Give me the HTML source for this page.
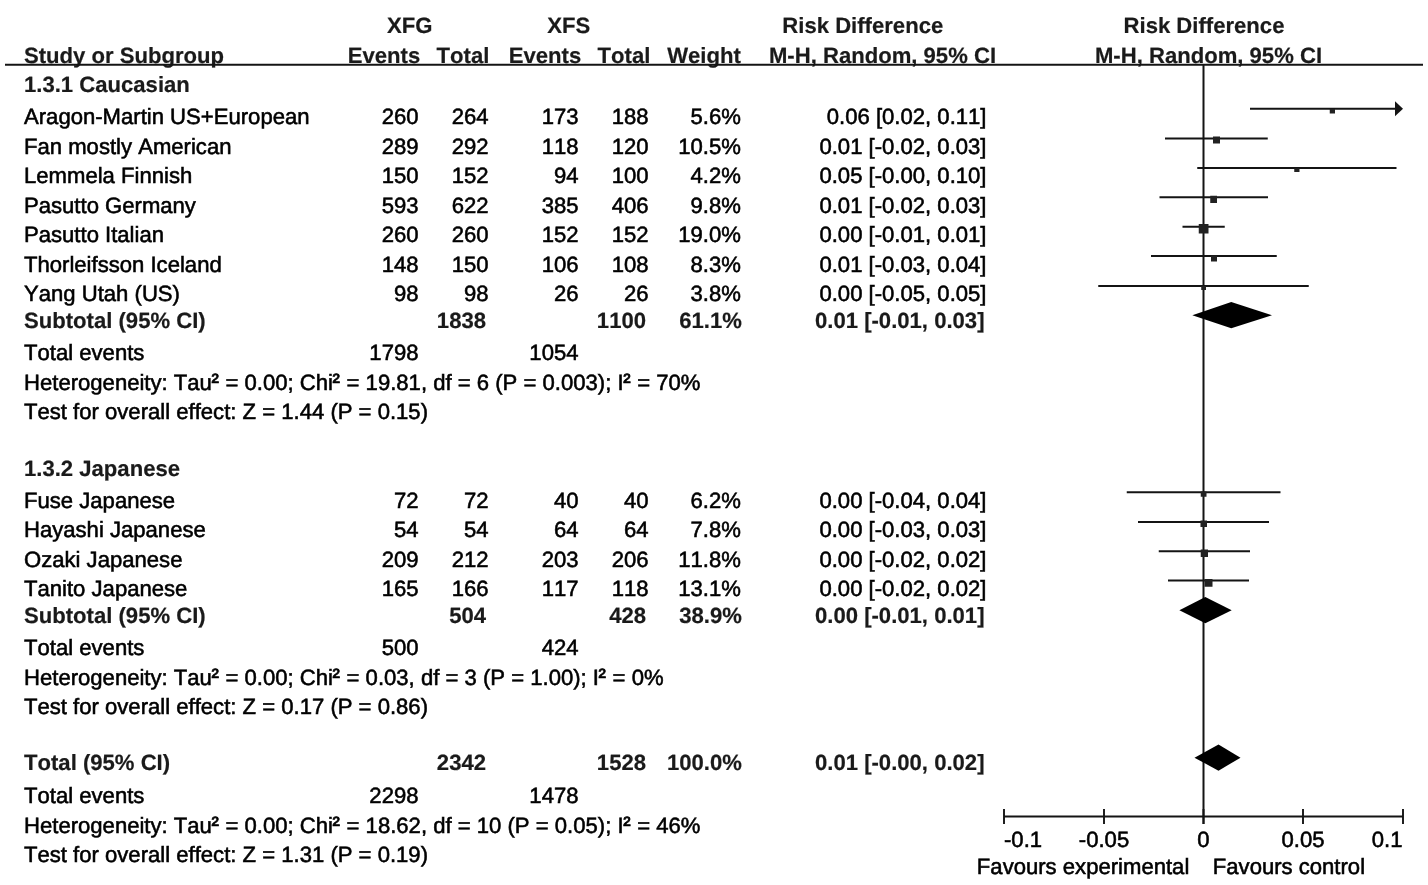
<!DOCTYPE html>
<html lang="en">
<head>
<meta charset="utf-8">
<title>Forest plot: Risk Difference, XFG vs XFS</title>
<style>
html,body{margin:0;padding:0;background:#fff;}
body{width:1428px;height:885px;overflow:hidden;}
svg{display:block;}
text{font-family:"Liberation Sans",Arial,Helvetica,sans-serif;font-size:22.1px;fill:#000;stroke:#000;stroke-width:0.55px;font-kerning:none;font-variant-ligatures:none;text-rendering:geometricPrecision;}
.b{font-weight:bold;fill:#1a1a1a;stroke:#1a1a1a;stroke-width:0.2px;}
.sup{stroke-width:0.8px;}
</style>
</head>
<body>
<svg width="1428" height="885" viewBox="0 0 1428 885">
<rect width="1428" height="885" fill="#fff"/>
<g>
<text x="409.7" y="33" text-anchor="middle" class="b">XFG</text>
<text x="568.8" y="33" text-anchor="middle" class="b">XFS</text>
<text x="862.8" y="33" text-anchor="middle" class="b">Risk Difference</text>
<text x="1204" y="33" text-anchor="middle" class="b">Risk Difference</text>
<text x="24" y="63" class="b">Study or Subgroup</text>
<text x="384" y="63" text-anchor="middle" class="b">Events</text>
<text x="463" y="63" text-anchor="middle" class="b">Total</text>
<text x="545" y="63" text-anchor="middle" class="b">Events</text>
<text x="624" y="63" text-anchor="middle" class="b">Total</text>
<text x="704" y="63" text-anchor="middle" class="b">Weight</text>
<text x="882.5" y="63" text-anchor="middle" class="b">M-H, Random, 95% CI</text>
<text x="1208.5" y="63" text-anchor="middle" class="b">M-H, Random, 95% CI</text>
</g>
<g>
<line x1="5" y1="64.8" x2="1423" y2="64.8" stroke="#141414" stroke-width="2.1"/>
<line x1="1203.5" y1="64" x2="1203.5" y2="824" stroke="#141414" stroke-width="2.0"/>
<line x1="1004" y1="816.5" x2="1403" y2="816.5" stroke="#141414" stroke-width="1.9"/>
<line x1="1004" y1="809" x2="1004" y2="824" stroke="#141414" stroke-width="1.9"/>
<line x1="1104" y1="809" x2="1104" y2="824" stroke="#141414" stroke-width="1.9"/>
<line x1="1203.5" y1="809" x2="1203.5" y2="824" stroke="#141414" stroke-width="1.9"/>
<line x1="1303" y1="809" x2="1303" y2="824" stroke="#141414" stroke-width="1.9"/>
<line x1="1403" y1="809" x2="1403" y2="824" stroke="#141414" stroke-width="1.9"/>
<line x1="1250" y1="108.8" x2="1400" y2="108.8" stroke="#141414" stroke-width="1.9"/>
<rect x="1329.75" y="109" width="5.25" height="4.5" fill="#222"/>
<line x1="1165" y1="138.55" x2="1267.75" y2="138.55" stroke="#141414" stroke-width="1.9"/>
<rect x="1213" y="136.5" width="7" height="7.0" fill="#222"/>
<line x1="1197.25" y1="168.05" x2="1396.5" y2="168.05" stroke="#141414" stroke-width="1.9"/>
<rect x="1294.25" y="168.25" width="5.25" height="3.75" fill="#222"/>
<line x1="1159.5" y1="197.3" x2="1268" y2="197.3" stroke="#141414" stroke-width="1.9"/>
<rect x="1210.25" y="195.75" width="6.75" height="7.25" fill="#222"/>
<line x1="1182.5" y1="226.8" x2="1224.75" y2="226.8" stroke="#141414" stroke-width="1.9"/>
<rect x="1198.75" y="224" width="9.75" height="9.5" fill="#222"/>
<line x1="1151" y1="256.05" x2="1276.75" y2="256.05" stroke="#141414" stroke-width="1.9"/>
<rect x="1211" y="255.5" width="6" height="6.0" fill="#222"/>
<line x1="1098.25" y1="286.05" x2="1308.75" y2="286.05" stroke="#141414" stroke-width="1.9"/>
<rect x="1201.25" y="286" width="4.75" height="4" fill="#222"/>
<line x1="1126.75" y1="492.3" x2="1280.5" y2="492.3" stroke="#141414" stroke-width="1.9"/>
<rect x="1200.75" y="491.5" width="5.75" height="5.25" fill="#222"/>
<line x1="1138" y1="522.05" x2="1269" y2="522.05" stroke="#141414" stroke-width="1.9"/>
<rect x="1200.5" y="520.5" width="6.5" height="6.5" fill="#222"/>
<line x1="1158.75" y1="551.3" x2="1250" y2="551.3" stroke="#141414" stroke-width="1.9"/>
<rect x="1200.75" y="549.5" width="7.25" height="7.5" fill="#222"/>
<line x1="1168" y1="580.55" x2="1249" y2="580.55" stroke="#141414" stroke-width="1.9"/>
<rect x="1204.5" y="579" width="8.0" height="7.75" fill="#222"/>
<polygon points="1395,101.3 1403,108.8 1395,116.3" fill="#141414"/>
<polygon points="1192.3,315.20000000000005 1231.25,302.1 1272,315.20000000000005 1231.25,328.3" fill="#000"/>
<polygon points="1179.4,610.125 1205.3,597 1231.7,610.125 1205.3,623.25" fill="#000"/>
<polygon points="1194.5,757.625 1218.5,744.5 1240.5,757.625 1218.5,770.75" fill="#000"/>
</g>
<g>
<text x="24" y="92" class="b">1.3.1 Caucasian</text>
<text x="24" y="124">Aragon-Martin US+European</text>
<text x="418.5" y="124" text-anchor="end">260</text>
<text x="488.5" y="124" text-anchor="end">264</text>
<text x="578.5" y="124" text-anchor="end">173</text>
<text x="648.5" y="124" text-anchor="end">188</text>
<text x="740.9" y="124" text-anchor="end">5.6%</text>
<text x="986.5" y="124" text-anchor="end">0.06 [0.02, 0.11]</text>
<text x="24" y="154">Fan mostly American</text>
<text x="418.5" y="154" text-anchor="end">289</text>
<text x="488.5" y="154" text-anchor="end">292</text>
<text x="578.5" y="154" text-anchor="end">118</text>
<text x="648.5" y="154" text-anchor="end">120</text>
<text x="740.9" y="154" text-anchor="end">10.5%</text>
<text x="986.5" y="154" text-anchor="end">0.01 [-0.02, 0.03]</text>
<text x="24" y="183">Lemmela Finnish</text>
<text x="418.5" y="183" text-anchor="end">150</text>
<text x="488.5" y="183" text-anchor="end">152</text>
<text x="578.5" y="183" text-anchor="end">94</text>
<text x="648.5" y="183" text-anchor="end">100</text>
<text x="740.9" y="183" text-anchor="end">4.2%</text>
<text x="986.5" y="183" text-anchor="end">0.05 [-0.00, 0.10]</text>
<text x="24" y="213">Pasutto Germany</text>
<text x="418.5" y="213" text-anchor="end">593</text>
<text x="488.5" y="213" text-anchor="end">622</text>
<text x="578.5" y="213" text-anchor="end">385</text>
<text x="648.5" y="213" text-anchor="end">406</text>
<text x="740.9" y="213" text-anchor="end">9.8%</text>
<text x="986.5" y="213" text-anchor="end">0.01 [-0.02, 0.03]</text>
<text x="24" y="242">Pasutto Italian</text>
<text x="418.5" y="242" text-anchor="end">260</text>
<text x="488.5" y="242" text-anchor="end">260</text>
<text x="578.5" y="242" text-anchor="end">152</text>
<text x="648.5" y="242" text-anchor="end">152</text>
<text x="740.9" y="242" text-anchor="end">19.0%</text>
<text x="986.5" y="242" text-anchor="end">0.00 [-0.01, 0.01]</text>
<text x="24" y="272">Thorleifsson Iceland</text>
<text x="418.5" y="272" text-anchor="end">148</text>
<text x="488.5" y="272" text-anchor="end">150</text>
<text x="578.5" y="272" text-anchor="end">106</text>
<text x="648.5" y="272" text-anchor="end">108</text>
<text x="740.9" y="272" text-anchor="end">8.3%</text>
<text x="986.5" y="272" text-anchor="end">0.01 [-0.03, 0.04]</text>
<text x="24" y="301">Yang Utah (US)</text>
<text x="418.5" y="301" text-anchor="end">98</text>
<text x="488.5" y="301" text-anchor="end">98</text>
<text x="578.5" y="301" text-anchor="end">26</text>
<text x="648.5" y="301" text-anchor="end">26</text>
<text x="740.9" y="301" text-anchor="end">3.8%</text>
<text x="986.5" y="301" text-anchor="end">0.00 [-0.05, 0.05]</text>
<text x="24" y="328" class="b">Subtotal (95% CI)</text>
<text x="486.0" y="328" text-anchor="end" class="b">1838</text>
<text x="646.0" y="328" text-anchor="end" class="b">1100</text>
<text x="741.9" y="328" text-anchor="end" class="b">61.1%</text>
<text x="984.5" y="328" text-anchor="end" class="b">0.01 [-0.01, 0.03]</text>
<text x="24" y="360">Total events</text>
<text x="418.5" y="360" text-anchor="end">1798</text>
<text x="578.5" y="360" text-anchor="end">1054</text>
<text x="24" y="390">Heterogeneity: Tau<tspan class="sup" dx="-0.4" dy="-1">²</tspan><tspan dx="0.5" dy="1"> </tspan>= 0.00; Chi<tspan class="sup" dx="-0.4" dy="-1">²</tspan><tspan dx="0.5" dy="1"> </tspan>= 19.81, df = 6 (P = 0.003); I<tspan class="sup" dx="-0.4" dy="-1">²</tspan><tspan dx="0.5" dy="1"> </tspan>= 70%</text>
<text x="24" y="419">Test for overall effect: Z = 1.44 (P = 0.15)</text>
<text x="24" y="476" class="b">1.3.2 Japanese</text>
<text x="24" y="508">Fuse Japanese</text>
<text x="418.5" y="508" text-anchor="end">72</text>
<text x="488.5" y="508" text-anchor="end">72</text>
<text x="578.5" y="508" text-anchor="end">40</text>
<text x="648.5" y="508" text-anchor="end">40</text>
<text x="740.9" y="508" text-anchor="end">6.2%</text>
<text x="986.5" y="508" text-anchor="end">0.00 [-0.04, 0.04]</text>
<text x="24" y="537">Hayashi Japanese</text>
<text x="418.5" y="537" text-anchor="end">54</text>
<text x="488.5" y="537" text-anchor="end">54</text>
<text x="578.5" y="537" text-anchor="end">64</text>
<text x="648.5" y="537" text-anchor="end">64</text>
<text x="740.9" y="537" text-anchor="end">7.8%</text>
<text x="986.5" y="537" text-anchor="end">0.00 [-0.03, 0.03]</text>
<text x="24" y="567">Ozaki Japanese</text>
<text x="418.5" y="567" text-anchor="end">209</text>
<text x="488.5" y="567" text-anchor="end">212</text>
<text x="578.5" y="567" text-anchor="end">203</text>
<text x="648.5" y="567" text-anchor="end">206</text>
<text x="740.9" y="567" text-anchor="end">11.8%</text>
<text x="986.5" y="567" text-anchor="end">0.00 [-0.02, 0.02]</text>
<text x="24" y="596">Tanito Japanese</text>
<text x="418.5" y="596" text-anchor="end">165</text>
<text x="488.5" y="596" text-anchor="end">166</text>
<text x="578.5" y="596" text-anchor="end">117</text>
<text x="648.5" y="596" text-anchor="end">118</text>
<text x="740.9" y="596" text-anchor="end">13.1%</text>
<text x="986.5" y="596" text-anchor="end">0.00 [-0.02, 0.02]</text>
<text x="24" y="623" class="b">Subtotal (95% CI)</text>
<text x="486.0" y="623" text-anchor="end" class="b">504</text>
<text x="646.0" y="623" text-anchor="end" class="b">428</text>
<text x="741.9" y="623" text-anchor="end" class="b">38.9%</text>
<text x="984.5" y="623" text-anchor="end" class="b">0.00 [-0.01, 0.01]</text>
<text x="24" y="655">Total events</text>
<text x="418.5" y="655" text-anchor="end">500</text>
<text x="578.5" y="655" text-anchor="end">424</text>
<text x="24" y="685">Heterogeneity: Tau<tspan class="sup" dx="-0.4" dy="-1">²</tspan><tspan dx="0.5" dy="1"> </tspan>= 0.00; Chi<tspan class="sup" dx="-0.4" dy="-1">²</tspan><tspan dx="0.5" dy="1"> </tspan>= 0.03, df = 3 (P = 1.00); I<tspan class="sup" dx="-0.4" dy="-1">²</tspan><tspan dx="0.5" dy="1"> </tspan>= 0%</text>
<text x="24" y="714">Test for overall effect: Z = 0.17 (P = 0.86)</text>
<text x="24" y="770" class="b">Total (95% CI)</text>
<text x="486.0" y="770" text-anchor="end" class="b">2342</text>
<text x="646.0" y="770" text-anchor="end" class="b">1528</text>
<text x="741.9" y="770" text-anchor="end" class="b">100.0%</text>
<text x="984.5" y="770" text-anchor="end" class="b">0.01 [-0.00, 0.02]</text>
<text x="24" y="803">Total events</text>
<text x="418.5" y="803" text-anchor="end">2298</text>
<text x="578.5" y="803" text-anchor="end">1478</text>
<text x="24" y="833">Heterogeneity: Tau<tspan class="sup" dx="-0.4" dy="-1">²</tspan><tspan dx="0.5" dy="1"> </tspan>= 0.00; Chi<tspan class="sup" dx="-0.4" dy="-1">²</tspan><tspan dx="0.5" dy="1"> </tspan>= 18.62, df = 10 (P = 0.05); I<tspan class="sup" dx="-0.4" dy="-1">²</tspan><tspan dx="0.5" dy="1"> </tspan>= 46%</text>
<text x="24" y="862">Test for overall effect: Z = 1.31 (P = 0.19)</text>
<text x="1004" y="847">-0.1</text>
<text x="1104" y="847" text-anchor="middle">-0.05</text>
<text x="1203.5" y="847" text-anchor="middle">0</text>
<text x="1303" y="847" text-anchor="middle">0.05</text>
<text x="1402.5" y="847" text-anchor="end">0.1</text>
<text x="1189.3" y="874" text-anchor="end">Favours experimental</text>
<text x="1212.8" y="874">Favours control</text>
</g>
</svg>
</body>
</html>
